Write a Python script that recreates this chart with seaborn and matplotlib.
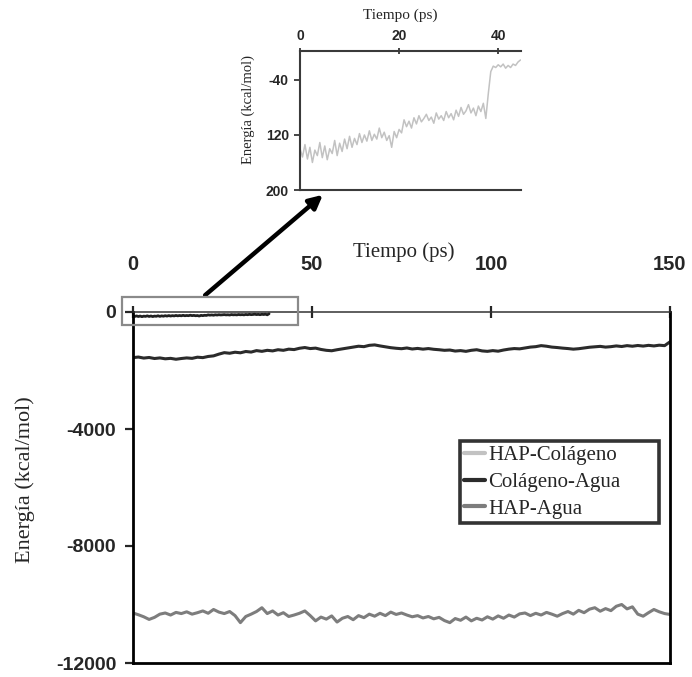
import numpy as np
import pandas as pd
import seaborn as sns
from matplotlib import pyplot as plt
from matplotlib.lines import Line2D
from matplotlib.patches import Rectangle

# main chart, one point every 1.5 ps
tiempo_main = np.arange(0, 150.1, 1.5)
colageno_agua = [
    -1560, -1540, -1575, -1555, -1590, -1570, -1600, -1585, -1615, -1590,
    -1570, -1585, -1545, -1560, -1520, -1500, -1440, -1390, -1410, -1375,
    -1395, -1350, -1370, -1320, -1345, -1310, -1330, -1290, -1310, -1270,
    -1285, -1240, -1215, -1250, -1235, -1280, -1310, -1325, -1290, -1260,
    -1230, -1200, -1170, -1185, -1140, -1125, -1160, -1190, -1220, -1240,
    -1255, -1230, -1265, -1245, -1270, -1250, -1275, -1290, -1310, -1300,
    -1335, -1320, -1345, -1310, -1290, -1330, -1345, -1320, -1340, -1300,
    -1270, -1250, -1260, -1230, -1200, -1185, -1150, -1170, -1200, -1215,
    -1235, -1250, -1270, -1255, -1230, -1205, -1190, -1175, -1200, -1185,
    -1160, -1180, -1150, -1170, -1145, -1165, -1140, -1160, -1135, -1150,
    -1020,
]
hap_agua = [
    -10290, -10350, -10420, -10510, -10440, -10330, -10290, -10360, -10270, -10310,
    -10250, -10330, -10280, -10220, -10300, -10170, -10260, -10310, -10240, -10380,
    -10620, -10410, -10330, -10240, -10110, -10310, -10220, -10360, -10280, -10410,
    -10360, -10300, -10220, -10380, -10560, -10430, -10500, -10390, -10600, -10470,
    -10410, -10520, -10380, -10450, -10330, -10400, -10300, -10380, -10260, -10340,
    -10290, -10360, -10420, -10380, -10460, -10410, -10490, -10440, -10550, -10620,
    -10480, -10540, -10430, -10560, -10470, -10530, -10420, -10500, -10390, -10470,
    -10360, -10430, -10320, -10290, -10380, -10300, -10360, -10270, -10330, -10400,
    -10310, -10240, -10330, -10200, -10280, -10160, -10110, -10230, -10140, -10210,
    -10060, -10000, -10150, -10080, -10330, -10400, -10280, -10170, -10250, -10310,
    -10340,
]

# inset, one point every 0.5 ps
tiempo_inset = np.arange(0, 44.6, 0.5)
hap_colageno = [
    -140, -152, -134, -155, -138, -160, -142, -150, -131, -153,
    -136, -156, -140, -147, -128, -150, -132, -144, -126, -140,
    -122, -138, -125, -134, -118, -131, -120, -129, -114, -128,
    -119, -126, -110, -124, -116, -128, -121, -138, -115, -124,
    -112, -117, -98, -108, -100, -110, -95, -104, -92, -101,
    -96, -90, -99, -94, -103, -88, -97, -92, -99, -86,
    -95, -89, -98, -84, -93, -80, -90, -85, -76, -88,
    -81, -92, -78, -86, -74, -96, -60, -28, -20, -22,
    -18, -21, -17, -23, -19, -22, -17, -19, -14, -11,
]
corte_main = 38  # the main plot only shows HAP-Colágeno up to here

series_labels = ["HAP-Colágeno", "Colágeno-Agua", "HAP-Agua"]
series_colors = ["#c2c2c2", "#2b2b2b", "#7d7d7d"]

x_ticks_main = [0, 50, 100, 150]
y_ticks_main = [-12000, -8000, -4000, 0]
x_ticks_inset = [0, 20, 40]
y_ticks_inset = [-40, -120, -200]
y_ticklabels_inset = ["-40", "120", "200"]

df_main = pd.DataFrame({"Tiempo": tiempo_main, "Colágeno-Agua": colageno_agua, "HAP-Agua": hap_agua})
df_inset = pd.DataFrame({"Tiempo": tiempo_inset, "HAP-Colágeno": hap_colageno})

sns.set_style("white")
plt.rcParams["font.family"] = ["Liberation Serif", "DejaVu Serif"]
tick_font = {"family": "Liberation Sans", "weight": "bold"}

W, H = 692, 677
fig = plt.figure(figsize=(W / 100, H / 100), dpi=100)


def px(x0, y0, x1, y1):
    # pixel box (top-left origin) -> figure fraction rect
    return [x0 / W, 1 - y1 / H, (x1 - x0) / W, (y1 - y0) / H]


# ---- main axes
ax = fig.add_axes(px(133, 312, 670, 663))
sns.lineplot(data=df_inset[df_inset["Tiempo"] <= corte_main], x="Tiempo", y="HAP-Colágeno",
             color="#202020", linewidth=2.0, ax=ax)
sns.lineplot(data=df_main, x="Tiempo", y="Colágeno-Agua", color=series_colors[1], linewidth=2.2, ax=ax)
sns.lineplot(data=df_main, x="Tiempo", y="HAP-Agua", color=series_colors[2], linewidth=2.2, ax=ax)

ax.set_xlim(0, 150)
ax.set_ylim(-12000, 0)
ax.xaxis.tick_top()
ax.set_xticks(x_ticks_main)
ax.set_yticks(y_ticks_main)
ax.set_xticklabels([str(v) for v in x_ticks_main], fontsize=14.5, **tick_font)
ax.set_yticklabels([str(v) for v in y_ticks_main], fontsize=14, **tick_font)
ax.tick_params(axis="x", direction="inout", length=9, width=1.6, pad=23, top=True, bottom=False)
ax.tick_params(axis="y", direction="out", length=6, width=1.6, pad=6, left=True)
ax.set_xlabel("")
ax.set_ylabel("")
for side in ["left", "right", "bottom"]:
    ax.spines[side].set_linewidth(2.0)
    ax.spines[side].set_color("black")
ax.spines["top"].set_linewidth(1.1)
ax.spines["top"].set_color("#333333")

# box around the zoomed region
ax.add_patch(Rectangle((-3.1, -444), 49.2, 957, fill=False, edgecolor="#8a8a8a",
                       linewidth=1.6, clip_on=False, zorder=5))

fig.text(404 / W, 1 - 252 / H, "Tiempo (ps)", ha="center", va="center", fontsize=15)
fig.text(25 / W, 1 - 480 / H, "Energía (kcal/mol)", ha="center", va="center", rotation=90, fontsize=16)

handles = [Line2D([], [], color=c, linewidth=3) for c in series_colors]
leg = ax.legend(handles=handles, labels=series_labels, loc="upper left",
                bbox_to_anchor=(0.609, 0.30, 0.371, 0.332), mode="expand",
                frameon=True, fancybox=False, edgecolor="black", fontsize=15,
                handlelength=1.0, handletextpad=0.15, borderpad=0.2, labelspacing=0.35,
                borderaxespad=0)
leg.get_frame().set_linewidth(2.6)

# ---- inset
axi = fig.add_axes(px(300, 51, 521, 190))
sns.lineplot(data=df_inset, x="Tiempo", y="HAP-Colágeno", color=series_colors[0], linewidth=1.1, ax=axi)
axi.set_xlim(0, 44.6)
axi.set_ylim(-200, 2)
axi.xaxis.tick_top()
axi.set_xticks(x_ticks_inset)
axi.set_yticks(y_ticks_inset)
axi.set_xticklabels([str(v) for v in x_ticks_inset], fontsize=10, **tick_font)
axi.set_yticklabels(y_ticklabels_inset, fontsize=10, **tick_font)
axi.tick_params(axis="x", direction="inout", length=4, width=1.2, pad=4, top=True, bottom=False)
axi.tick_params(axis="y", direction="out", length=4, width=1.2, pad=4, left=True)
axi.set_xlabel("")
axi.set_ylabel("")
axi.spines["right"].set_visible(False)
for side in ["left", "top", "bottom"]:
    axi.spines[side].set_linewidth(1.5)
    axi.spines[side].set_color("#3a3a3a")

fig.text(400 / W, 1 - 15 / H, "Tiempo (ps)", ha="center", va="center", fontsize=11)
fig.text(248 / W, 1 - 110 / H, "Energía (kcal/mol)", ha="center", va="center", rotation=90, fontsize=10.5)

# arrow from the box to the inset
ax.annotate("", xy=(325 / W, 1 - 193 / H), xytext=(203 / W, 1 - 297 / H),
            xycoords="figure fraction", textcoords="figure fraction", annotation_clip=False,
            arrowprops=dict(arrowstyle="-|>", linewidth=3.2, color="black", mutation_scale=20))

plt.savefig("out.png", dpi=100)
